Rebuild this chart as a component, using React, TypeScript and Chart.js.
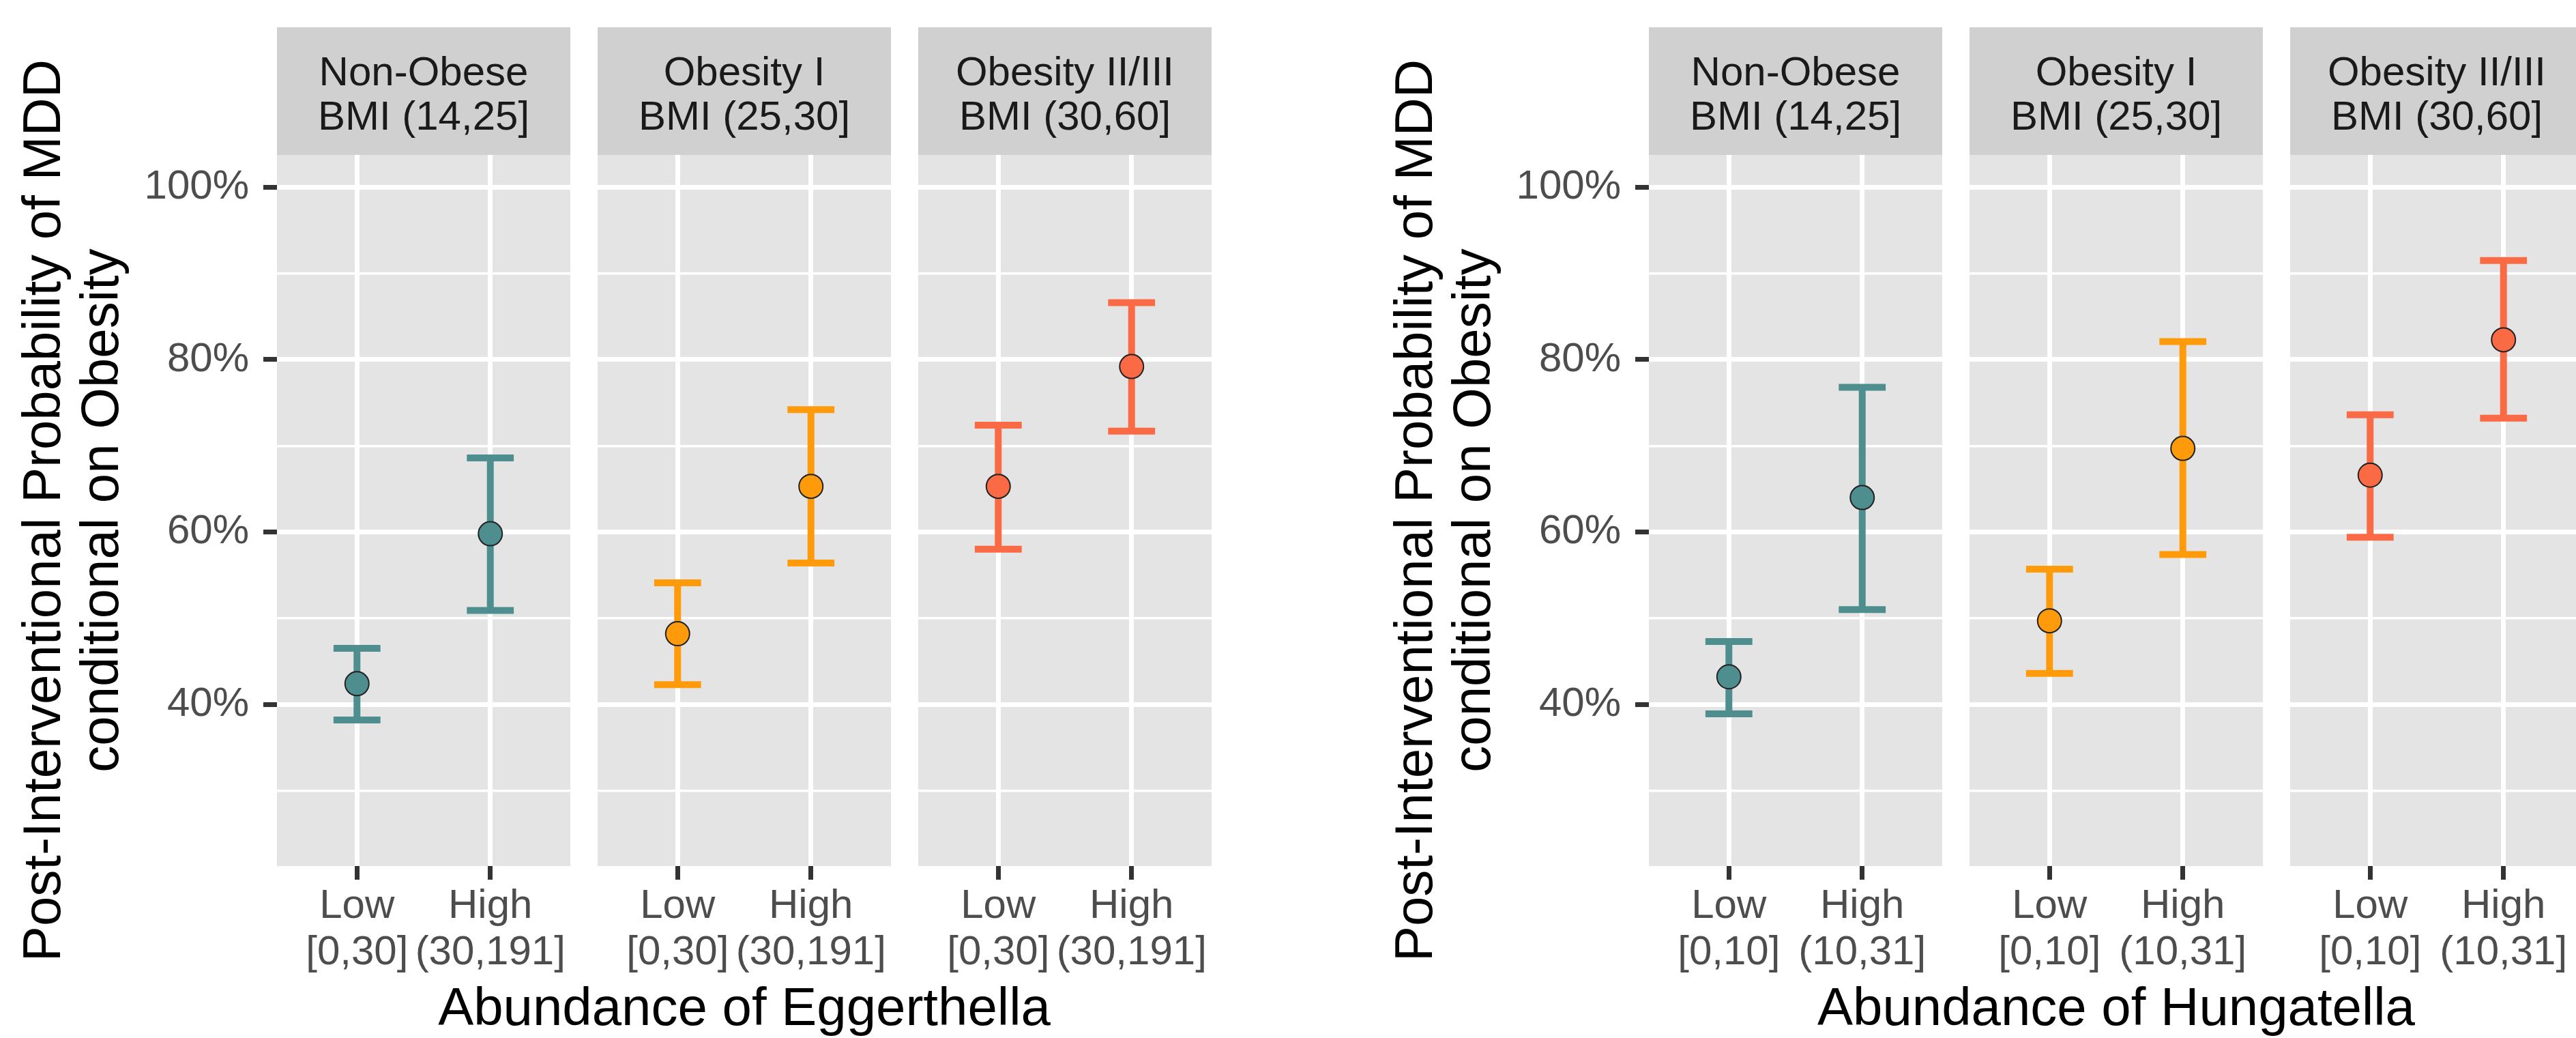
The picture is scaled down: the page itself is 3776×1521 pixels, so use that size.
import React, { useEffect, useRef } from "react";
import { Chart, registerables } from "chart.js";

Chart.register(...registerables);

// ---------- data ----------
const facetLine1 = ["Non-Obese", "Obesity I", "Obesity II/III"];
const facetLine2 = ["BMI (14,25]", "BMI (25,30]", "BMI (30,60]"];
const levels = ["Low", "High"];
const eggerthellaRanges = ["[0,30]", "(30,191]"];
const hungatellaRanges = ["[0,10]", "(10,31]"];
const facetColors = ["#4E8E8E", "#FF9A0A", "#FA6A45"];

// percent values, one [Low, High] pair per BMI facet
const eggMean = [[42.4, 59.8], [48.2, 65.3], [65.3, 79.2]];
const eggLower = [[38.2, 50.9], [42.3, 56.4], [58.0, 71.7]];
const eggUpper = [[46.5, 68.6], [54.1, 74.2], [72.4, 86.6]];

const hunMean = [[43.2, 64.0], [49.7, 69.7], [66.6, 82.3]];
const hunLower = [[38.9, 51.0], [43.6, 57.4], [59.4, 73.2]];
const hunUpper = [[47.3, 76.8], [55.7, 82.1], [73.6, 91.5]];

const yTickValues = [30, 40, 50, 60, 70, 80, 90, 100];
const yMajorTicks = [40, 60, 80, 100];
const yMin = 21.25;
const yMax = 103.75;
const xMin = 0.4;
const xMax = 2.6;

const yTitleLines = ["Post-Interventional Probability of MDD", "conditional on Obesity"];
const xTitles = ["Abundance of Eggerthella", "Abundance of Hungatella"];

// ---------- layout / style ----------
const FONT = '"Liberation Sans", Arial, Helvetica, sans-serif';
const STRIP_TOP = 40;
const STRIP_H = 187;
const PANEL_TOP = 227;
const PANEL_H = 1042;
const PANEL_W = 430;
const PANEL_GAP = 40;
const X_AXIS_H = 200;
const Y_AXIS_W = 200;
const ERR_HALF = 0.176;
const PANEL_BG = "#E4E4E4";
const STRIP_BG = "#D0D0D0";

const plots = [
  { panelLeft: 406, mean: eggMean, lower: eggLower, upper: eggUpper, ranges: eggerthellaRanges, xTitle: xTitles[0] },
  { panelLeft: 2417, mean: hunMean, lower: hunLower, upper: hunUpper, ranges: hungatellaRanges, xTitle: xTitles[1] },
];

type FacetProps = {
  left: number;
  showY: boolean;
  color: string;
  mean: number[];
  lower: number[];
  upper: number[];
  ranges: string[];
};

function Facet({ left, showY, color, mean, lower, upper, ranges }: FacetProps) {
  const ref = useRef<HTMLCanvasElement>(null);
  const yW = showY ? Y_AXIS_W : 0;
  const w = PANEL_W + yW;
  const h = PANEL_H + X_AXIS_H;

  useEffect(() => {
    const panelBg = {
      id: "panelBg",
      beforeDraw(chart: any) {
        const { ctx, chartArea: a } = chart;
        ctx.save();
        ctx.fillStyle = PANEL_BG;
        ctx.fillRect(a.left, a.top, a.right - a.left, a.bottom - a.top);
        ctx.restore();
      },
    };
    const errorBars = {
      id: "errorBars",
      beforeDatasetsDraw(chart: any) {
        const { ctx } = chart;
        const xs = chart.scales.x;
        const ys = chart.scales.y;
        ctx.save();
        ctx.strokeStyle = color;
        ctx.lineWidth = 10;
        ctx.lineCap = "butt";
        levels.forEach((_, i) => {
          const xc = xs.getPixelForValue(i + 1);
          const xl = xs.getPixelForValue(i + 1 - ERR_HALF);
          const xr = xs.getPixelForValue(i + 1 + ERR_HALF);
          const yl = ys.getPixelForValue(lower[i]);
          const yu = ys.getPixelForValue(upper[i]);
          ctx.beginPath();
          ctx.moveTo(xc, yl);
          ctx.lineTo(xc, yu);
          ctx.moveTo(xl, yu);
          ctx.lineTo(xr, yu);
          ctx.moveTo(xl, yl);
          ctx.lineTo(xr, yl);
          ctx.stroke();
        });
        ctx.restore();
      },
    };

    const chart = new Chart(ref.current as HTMLCanvasElement, {
      type: "scatter",
      data: {
        datasets: [
          {
            data: levels.map((_, i) => ({ x: i + 1, y: mean[i] })),
            backgroundColor: color,
            borderColor: "#222222",
            borderWidth: 2,
            pointRadius: 17.5,
            pointHoverRadius: 17.5,
          },
        ],
      },
      options: {
        animation: false,
        responsive: false,
        devicePixelRatio: 1,
        events: [],
        layout: { padding: 0, autoPadding: false },
        plugins: { legend: { display: false }, tooltip: { enabled: false }, title: { display: false } },
        scales: {
          x: {
            type: "linear",
            min: xMin,
            max: xMax,
            afterBuildTicks: (s: any) => {
              s.ticks = levels.map((_, i) => ({ value: i + 1 }));
            },
            afterFit: (s: any) => {
              s.height = X_AXIS_H;
              s.paddingLeft = 0;
              s.paddingRight = 0;
            },
            ticks: {
              autoSkip: false,
              maxRotation: 0,
              minRotation: 0,
              padding: 5,
              color: "#4D4D4D",
              font: { family: FONT, size: 60, lineHeight: 68 / 60 },
              callback: (_v: any, i: number) => [levels[i], ranges[i]],
            },
            grid: {
              color: "#FFFFFF",
              lineWidth: 7,
              drawTicks: true,
              tickLength: 20,
              tickWidth: 7,
              tickColor: "#333333",
            },
            border: { display: false },
          },
          y: {
            type: "linear",
            min: yMin,
            max: yMax,
            afterBuildTicks: (s: any) => {
              s.ticks = yTickValues.map((v) => ({ value: v }));
            },
            afterFit: (s: any) => {
              s.width = yW;
              s.paddingTop = 0;
              s.paddingBottom = 0;
            },
            ticks: {
              display: showY,
              padding: 21,
              color: "#4D4D4D",
              font: { family: FONT, size: 60 },
              callback: (v: any) => (yMajorTicks.includes(Number(v)) ? `${v}%` : ""),
            },
            grid: {
              color: "#FFFFFF",
              lineWidth: (c: any) => (yMajorTicks.includes(c.tick?.value) ? 7 : 3.5),
              drawTicks: showY,
              tickLength: 20,
              tickWidth: 7,
              tickColor: (c: any) => (yMajorTicks.includes(c.tick?.value) ? "#333333" : "rgba(0,0,0,0)"),
            },
            border: { display: false },
          },
        },
      } as any,
      plugins: [panelBg, errorBars],
    });
    return () => chart.destroy();
  }, []);

  return (
    <canvas
      ref={ref}
      width={w}
      height={h}
      style={{ position: "absolute", left: left - yW, top: PANEL_TOP, width: w, height: h }}
    />
  );
}

export default function App() {
  return (
    <div
      style={{
        position: "absolute",
        left: 0,
        top: 0,
        width: 3776,
        height: 1521,
        overflow: "hidden",
        background: "#FFFFFF",
        fontFamily: FONT,
      }}
    >
      {plots.map((p, pi) => {
        const lefts = facetLine1.map((_, fi) => p.panelLeft + fi * (PANEL_W + PANEL_GAP));
        const totalRight = lefts[lefts.length - 1] + PANEL_W;
        const xCenter = (p.panelLeft + totalRight) / 2;
        const yTitleCenterX = p.panelLeft - 302;
        const yTitleCenterY = PANEL_TOP + PANEL_H / 2;
        return (
          <React.Fragment key={pi}>
            {lefts.map((l, fi) => (
              <React.Fragment key={fi}>
                <div
                  style={{
                    position: "absolute",
                    left: l,
                    top: STRIP_TOP,
                    width: PANEL_W,
                    height: STRIP_H,
                    boxSizing: "border-box",
                    paddingTop: 6,
                    background: STRIP_BG,
                    display: "flex",
                    flexDirection: "column",
                    alignItems: "center",
                    justifyContent: "center",
                    fontSize: 60,
                    lineHeight: "65px",
                    color: "#1A1A1A",
                    whiteSpace: "nowrap",
                  }}
                >
                  <div>{facetLine1[fi]}</div>
                  <div>{facetLine2[fi]}</div>
                </div>
                <Facet
                  left={l}
                  showY={fi === 0}
                  color={facetColors[fi]}
                  mean={p.mean[fi]}
                  lower={p.lower[fi]}
                  upper={p.upper[fi]}
                  ranges={p.ranges}
                />
              </React.Fragment>
            ))}
            <div
              style={{
                position: "absolute",
                left: yTitleCenterX - 1000,
                top: yTitleCenterY - 85,
                width: 2000,
                height: 170,
                transform: "rotate(-90deg)",
                transformOrigin: "50% 50%",
                textAlign: "center",
                fontSize: 78,
                lineHeight: "85px",
                color: "#000000",
                whiteSpace: "nowrap",
              }}
            >
              <div>{yTitleLines[0]}</div>
              <div>{yTitleLines[1]}</div>
            </div>
            <div
              style={{
                position: "absolute",
                left: xCenter - 1000,
                top: 1433,
                width: 2000,
                textAlign: "center",
                fontSize: 78,
                lineHeight: "85px",
                color: "#000000",
                whiteSpace: "nowrap",
              }}
            >
              {p.xTitle}
            </div>
          </React.Fragment>
        );
      })}
    </div>
  );
}
